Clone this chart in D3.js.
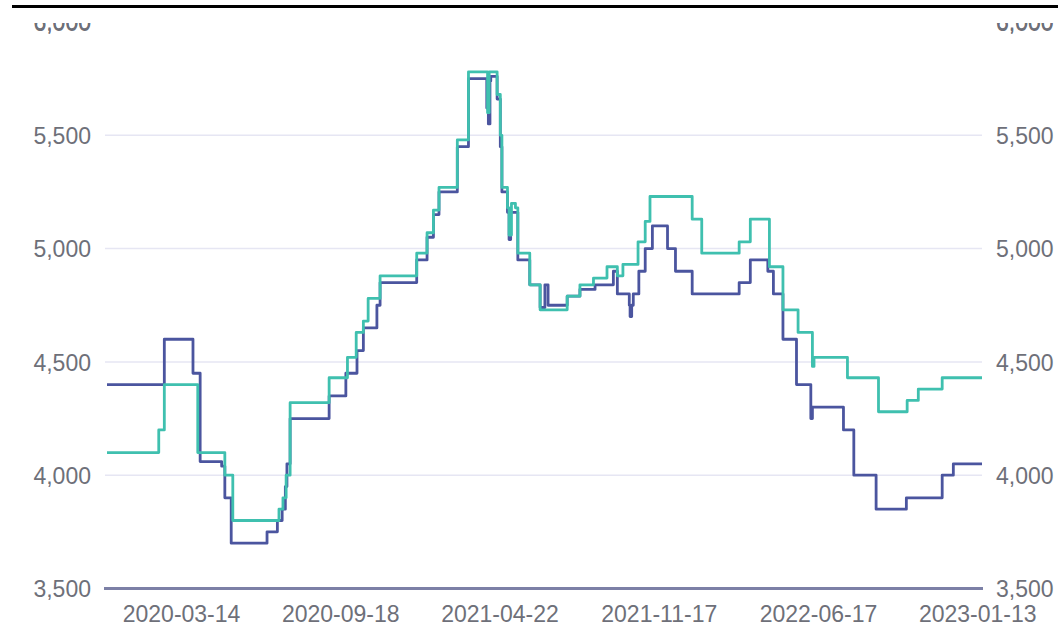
<!DOCTYPE html>
<html>
<head>
<meta charset="utf-8">
<script src="https://cdn.jsdelivr.net/npm/d3@7"></script>
<style>
  html, body { margin: 0; padding: 0; background: #fff; }
  svg { display: block; }
</style>
</head>
<body>
<svg id="chart" width="1058" height="637"></svg>
<script>
// ---- data (x = position in the date sequence, step change points) ----
const tickIndex = [93, 293, 493, 693, 893, 1093];
const tickLabels = ["2020-03-14", "2020-09-18", "2021-04-22", "2021-11-17", "2022-06-17", "2023-01-13"];
const lastIndex = 1099;
const yTicks = [3500, 4000, 4500, 5000, 5500, 6000];

const navyIdx = [0, 72, 108, 117, 144, 148, 156, 201, 214, 220, 224, 226, 230, 279, 300, 314, 322, 339, 343, 389, 402, 410, 417, 440, 454, 477, 479, 481, 482, 490, 494, 496, 503, 505, 507, 516, 531, 544, 550, 554, 578, 594, 613, 636, 641, 656, 657, 659, 661, 668, 676, 685, 704, 714, 735, 794, 808, 830, 837, 849, 866, 884, 886, 925, 938, 966, 1004, 1049, 1063, 1099];
const navyVal = [4400, 4600, 4450, 4060, 4040, 3900, 3700, 3750, 3800, 3850, 3950, 4050, 4250, 4350, 4450, 4550, 4650, 4750, 4850, 4950, 5050, 5150, 5250, 5450, 5750, 5620, 5550, 5740, 5760, 5660, 5450, 5250, 5160, 5040, 5160, 4950, 4840, 4740, 4840, 4750, 4790, 4820, 4840, 4900, 4800, 4750, 4700, 4750, 4800, 4900, 5000, 5100, 5000, 4900, 4800, 4850, 4950, 4900, 4800, 4600, 4400, 4250, 4300, 4200, 4000, 3850, 3900, 4000, 4050, 4050];

const tealIdx = [0, 65, 72, 114, 148, 158, 216, 221, 225, 230, 279, 302, 313, 322, 328, 343, 389, 402, 410, 417, 440, 454, 478, 480, 490, 494, 496, 503, 505, 508, 513, 516, 531, 544, 578, 594, 611, 628, 641, 648, 667, 676, 682, 735, 747, 794, 808, 832, 849, 868, 886, 888, 930, 969, 1005, 1019, 1049, 1099];
const tealVal = [4100, 4200, 4400, 4100, 4000, 3800, 3850, 3900, 4000, 4320, 4430, 4520, 4630, 4680, 4780, 4880, 4980, 5070, 5170, 5270, 5480, 5780, 5600, 5780, 5680, 5500, 5270, 5180, 5060, 5200, 5180, 4980, 4840, 4730, 4790, 4840, 4870, 4920, 4880, 4930, 5030, 5120, 5230, 5130, 4980, 5030, 5130, 4920, 4730, 4630, 4480, 4520, 4430, 4280, 4330, 4380, 4430, 4430];

// ---- layout ----
const svg = d3.select("#chart");
const x = d3.scaleLinear().domain([0, lastIndex]).range([107, 982]);
const y = d3.scaleLinear().domain([3500, 6000]).range([588.5, 22]);
const labelColor = "#6e7079";
const fontFamily = "'Liberation Sans', Arial, sans-serif";

// grid lines
svg.append("g").selectAll("line")
  .data(yTicks.filter(v => v > 3500))
  .join("line")
  .attr("x1", 105).attr("x2", 982)
  .attr("y1", d => y(d)).attr("y2", d => y(d))
  .attr("stroke", "#e6e6f3").attr("stroke-width", 1.5);

// left axis labels
const leftAxis = d3.axisLeft(y).tickValues(yTicks).tickFormat(d3.format(",")).tickSize(0).tickPadding(0);
const gl = svg.append("g").attr("transform", "translate(91,0)").call(leftAxis);
gl.select(".domain").remove();
gl.selectAll("text").attr("fill", labelColor).attr("font-size", 23).attr("font-family", fontFamily).attr("dy", "0.36em");

// right axis labels
const rightAxis = d3.axisRight(y).tickValues(yTicks).tickFormat(d3.format(",")).tickSize(0).tickPadding(0);
const gr = svg.append("g").attr("transform", "translate(996,0)").call(rightAxis);
gr.select(".domain").remove();
gr.selectAll("text").attr("fill", labelColor).attr("font-size", 23).attr("font-family", fontFamily).attr("dy", "0.36em");

// bottom axis
const bottomAxis = d3.axisBottom(x).tickValues(tickIndex).tickFormat((d, i) => tickLabels[i]).tickSize(0).tickPadding(0);
const gb = svg.append("g").attr("transform", "translate(0,589)").call(bottomAxis);
gb.select(".domain").remove();
gb.selectAll("text").attr("fill", labelColor).attr("font-size", 23).attr("font-family", fontFamily)
  .attr("y", 33).attr("dy", 0);
svg.append("line")
  .attr("x1", 104).attr("x2", 983).attr("y1", y(3500)).attr("y2", y(3500))
  .attr("stroke", "#7c80a6").attr("stroke-width", 3);

// series
const line = d3.line().x(d => x(d[0])).y(d => y(d[1])).curve(d3.curveStepAfter);
const navy = navyIdx.map((d, i) => [d, navyVal[i]]);
const teal = tealIdx.map((d, i) => [d, tealVal[i]]);

svg.append("path").datum(navy).attr("d", line)
  .attr("fill", "none").attr("stroke", "#4b559f").attr("stroke-width", 2.8).attr("stroke-linejoin", "round");
svg.append("path").datum(teal).attr("d", line)
  .attr("fill", "none").attr("stroke", "#3fc0af").attr("stroke-width", 2.8).attr("stroke-linejoin", "round");

// top crop area and black rule
svg.append("rect").attr("x", 0).attr("y", 0).attr("width", 1058).attr("height", 23).attr("fill", "#fff");
svg.append("rect").attr("x", 12).attr("y", 5).attr("width", 1046).attr("height", 3).attr("fill", "#000");
// partial label tails visible just below the crop edge
svg.append("text").attr("x", 91).attr("y", y(6000)).attr("dy", "0.36em").attr("text-anchor", "end")
  .attr("fill", labelColor).attr("font-size", 23).attr("font-family", fontFamily)
  .attr("clip-path", "url(#topclip)").text("6,000");
svg.append("text").attr("x", 996).attr("y", y(6000)).attr("dy", "0.36em")
  .attr("fill", labelColor).attr("font-size", 23).attr("font-family", fontFamily)
  .attr("clip-path", "url(#topclip)").text("6,000");
svg.append("defs").append("clipPath").attr("id", "topclip")
  .append("rect").attr("x", 0).attr("y", 23).attr("width", 1058).attr("height", 20);
</script>
</body>
</html>
